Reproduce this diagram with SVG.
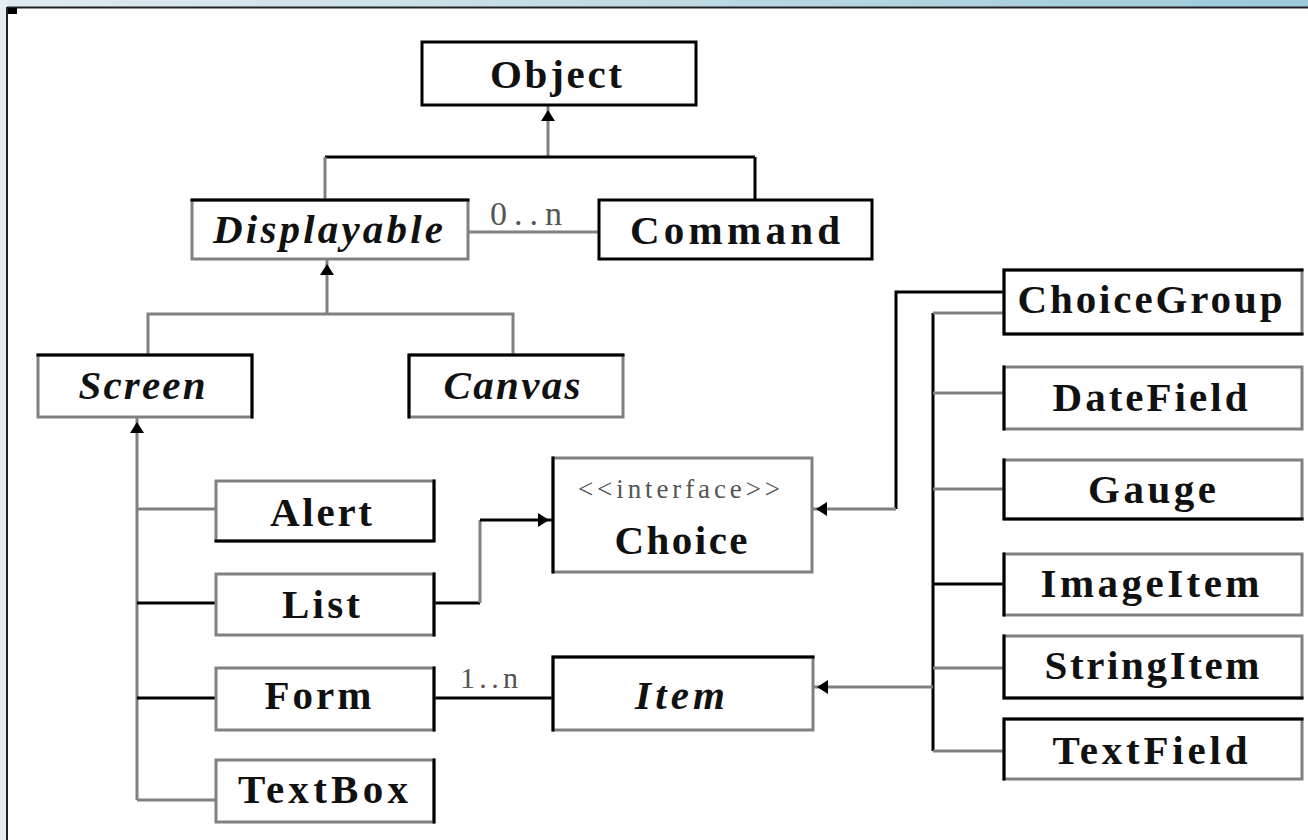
<svg xmlns="http://www.w3.org/2000/svg" width="1308" height="840" viewBox="0 0 1308 840">
<style>
.b{fill:#fff;stroke:#808080;stroke-width:3}
.bk{fill:#fff;stroke:#000;stroke-width:3}
.k{fill:none;stroke:#000;stroke-width:3;stroke-linecap:square}
.g{fill:none;stroke:#808080;stroke-width:3}
.l{fill:none;stroke:#000;stroke-width:3}
.t{font-family:"Liberation Serif","Times New Roman",serif;font-size:41px;font-weight:bold;fill:#111;text-anchor:middle}
.i{font-style:italic}
.s{font-family:"Liberation Serif","Times New Roman",serif;fill:#555;text-anchor:middle}
</style>
<defs>
<linearGradient id="top" x1="0" y1="0" x2="1" y2="0">
<stop offset="0" stop-color="#e0ebf0"/>
<stop offset="1" stop-color="#9dc9da"/>
</linearGradient>
<marker id="ah" viewBox="0 0 11 14" refX="15" refY="7" markerWidth="11" markerHeight="14" markerUnits="userSpaceOnUse" orient="auto" overflow="visible">
<path d="M0,0 L11,7 L0,14 Z" fill="#000"/>
</marker>
</defs>
<rect width="1308" height="840" fill="#fff"/>
<g id="frame">
<rect x="0" y="0" width="1308" height="7" fill="url(#top)"/>
<rect x="0" y="0" width="7" height="840" fill="#e3edf2"/>
<path d="M7,7.5H1308" stroke="#222" stroke-width="2"/>
<path d="M7,7V840" stroke="#222" stroke-width="2"/>
<rect x="8" y="8" width="9" height="6" fill="#000"/>
</g>
<g id="connectors">
<path class="g" d="M548,157V106" marker-end="url(#ah)"/>
<path class="l" d="M325,157H755"/>
<path class="g" d="M325,157V200"/>
<path class="l" d="M755,157V200"/>
<path class="g" d="M468,232H599"/>
<text class="s" x="526" y="225" font-size="34" textLength="72" lengthAdjust="spacing">0..n</text>
<path class="g" d="M327,314V260" marker-end="url(#ah)"/>
<path class="g" d="M148,355V314H513V355"/>
<path class="g" d="M137,800V418" marker-end="url(#ah)"/>
<path class="g" d="M137,509H216"/>
<path class="g" d="M137,800H216"/>
<path class="l" d="M137,603H216"/>
<path class="l" d="M137,698H216"/>
<path class="l" d="M434,603H480"/>
<path class="g" d="M480,603V520"/>
<path class="l" d="M480,520H553" marker-end="url(#ah)"/>
<path class="l" d="M1004,292H896V509"/>
<path class="g" d="M896,509H812" marker-end="url(#ah)"/>
<path class="l" d="M933,313V751"/>
<path class="g" d="M933,313H1004M933,393H1004M933,489H1004M933,668H1004M933,751H1004"/>
<path class="l" d="M933,584H1004"/>
<path class="g" d="M933,687H813" marker-end="url(#ah)"/>
<path class="l" d="M434,698H553"/>
<text class="s" x="489" y="688" font-size="30" textLength="58" lengthAdjust="spacing">1..n</text>
</g>
<g id="object">
<rect class="bk" x="422" y="42" width="274" height="63"/>
<text class="t" x="556" y="88" textLength="132" lengthAdjust="spacing">Object</text>
</g>
<g id="displayable">
<rect class="b" x="192" y="200" width="276" height="59"/>
<path class="k" d="M192,200H468"/>
<text class="t i" x="328" y="243" textLength="230" lengthAdjust="spacing">Displayable</text>
</g>
<g id="command">
<rect class="bk" x="599" y="200" width="273" height="59"/>
<text class="t" x="735" y="244" textLength="210" lengthAdjust="spacing">Command</text>
</g>
<g id="screen">
<rect class="b" x="38" y="355" width="214" height="62"/>
<path class="k" d="M38,355H252V417"/>
<text class="t i" x="142" y="399" textLength="127" lengthAdjust="spacing">Screen</text>
</g>
<g id="canvas">
<rect class="b" x="409" y="355" width="214" height="62"/>
<path class="k" d="M409,417V355H623"/>
<text class="t i" x="512" y="399" textLength="137" lengthAdjust="spacing">Canvas</text>
</g>
<g id="alert">
<rect class="b" x="216" y="481" width="218" height="60"/>
<path class="k" d="M434,481V541H216"/>
<text class="t" x="321" y="526" textLength="102" lengthAdjust="spacing">Alert</text>
</g>
<g id="list">
<rect class="b" x="216" y="574" width="218" height="61"/>
<path class="k" d="M434,574V635"/>
<text class="t" x="321" y="618" textLength="78" lengthAdjust="spacing">List</text>
</g>
<g id="form">
<rect class="b" x="216" y="668" width="218" height="62"/>
<path class="k" d="M434,668V730"/>
<text class="t" x="318" y="709" textLength="107" lengthAdjust="spacing">Form</text>
</g>
<g id="textbox">
<rect class="b" x="216" y="760" width="218" height="62"/>
<path class="k" d="M434,760V822"/>
<text class="t" x="323" y="803" textLength="170" lengthAdjust="spacing">TextBox</text>
</g>
<g id="choice">
<rect class="b" x="553" y="458" width="259" height="114"/>
<path class="k" d="M553,458V572"/>
<text class="s" x="679" y="498" font-size="27" textLength="202" lengthAdjust="spacing" fill="#555">&lt;&lt;interface&gt;&gt;</text>
<text class="t" x="681" y="554" textLength="133" lengthAdjust="spacing">Choice</text>
</g>
<g id="item">
<rect class="b" x="553" y="657" width="260" height="73"/>
<path class="k" d="M553,730V657H813"/>
<text class="t i" x="680" y="709" textLength="90" lengthAdjust="spacing">Item</text>
</g>
<g id="choicegroup">
<rect class="b" x="1004" y="270" width="298" height="64"/>
<path class="k" d="M1302,270H1004V334H1302"/>
<text class="t" x="1150" y="313" textLength="265" lengthAdjust="spacing">ChoiceGroup</text>
</g>
<g id="datefield">
<rect class="b" x="1004" y="367" width="298" height="62"/>
<path class="k" d="M1004,367V429"/>
<text class="t" x="1150" y="411" textLength="195" lengthAdjust="spacing">DateField</text>
</g>
<g id="gauge">
<rect class="b" x="1004" y="460" width="298" height="59"/>
<path class="k" d="M1004,460V519H1302"/>
<text class="t" x="1152" y="503" textLength="128" lengthAdjust="spacing">Gauge</text>
</g>
<g id="imageitem">
<rect class="b" x="1004" y="554" width="298" height="61"/>
<path class="k" d="M1004,554V615"/>
<text class="t" x="1150" y="597" textLength="219" lengthAdjust="spacing">ImageItem</text>
</g>
<g id="stringitem">
<rect class="b" x="1004" y="636" width="298" height="62"/>
<path class="k" d="M1004,636V698H1302"/>
<text class="t" x="1152" y="679" textLength="215" lengthAdjust="spacing">StringItem</text>
</g>
<g id="textfield">
<rect class="b" x="1004" y="719" width="298" height="60"/>
<path class="k" d="M1302,719H1004V779"/>
<text class="t" x="1150" y="764" textLength="195" lengthAdjust="spacing">TextField</text>
</g>
</svg>
